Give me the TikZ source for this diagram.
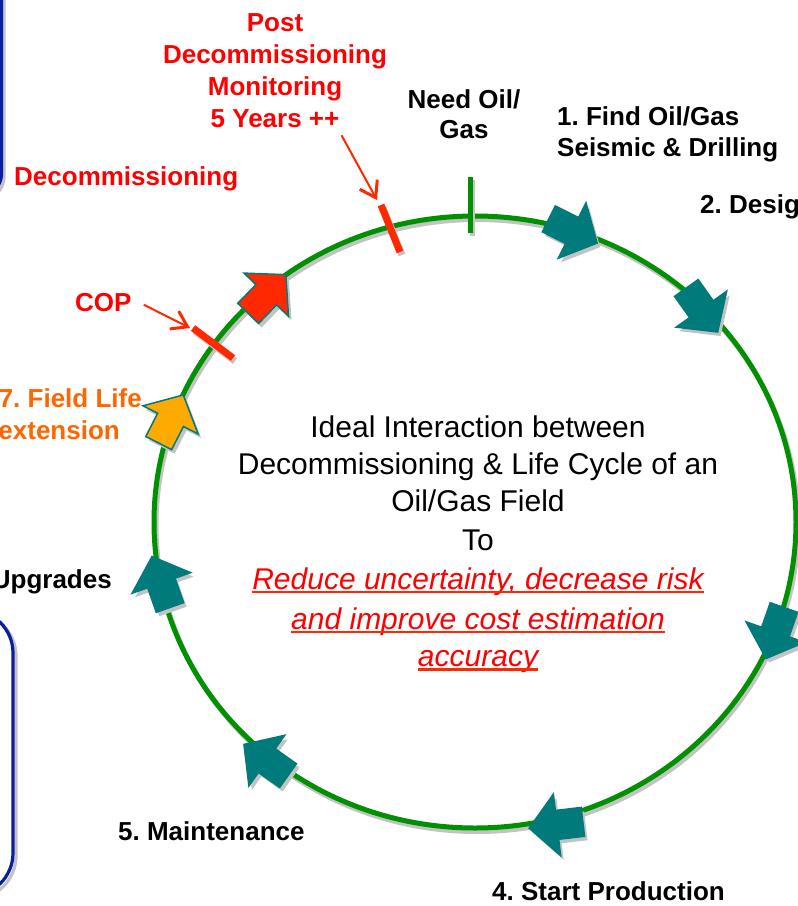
\documentclass[tikz,border=0pt]{standalone}
\usepackage{fontspec}
\setmainfont{Liberation Sans}
\usetikzlibrary{arrows.meta}
\frenchspacing
\definecolor{tealc}{RGB}{0,122,122}
\definecolor{cgreen}{RGB}{0,145,0}
\definecolor{tred}{RGB}{255,0,0}
\definecolor{mred}{RGB}{255,40,0}
\definecolor{forange}{RGB}{255,102,0}
\definecolor{aorange}{RGB}{255,170,0}
\definecolor{bblue}{RGB}{10,30,160}
\definecolor{shadec}{RGB}{195,195,195}
\newcommand\blkarrow[5]{%
  \fill[shadec,shift={(#1+3,#2+4)},rotate=#3]
    (-27,-14.5) -- (-1,-14.5) -- (-1,-31) -- (27,0) -- (-1,31) -- (-1,14.5) -- (-27,14.5) -- cycle;
  \filldraw[fill=#4,draw=#5,line width=1.5pt,line join=miter,shift={(#1,#2)},rotate=#3]
    (-27,-14.5) -- (-1,-14.5) -- (-1,-31) -- (27,0) -- (-1,31) -- (-1,14.5) -- (-27,14.5) -- cycle;
}
\begin{document}
\begin{tikzpicture}[x=1pt,y=-1pt,
  lbl/.style={font=\fontsize{26}{31}\selectfont\bfseries, inner sep=0pt, anchor=base},
  ctext/.style={font=\fontsize{30}{36}\selectfont, inner sep=0pt, anchor=base},
  rtext/.style={font=\fontsize{30}{36}\selectfont\itshape, text=tred, inner sep=0pt, anchor=base},
  uline/.style={mred, line width=2.5pt},
  ptr/.style={mred, line width=2pt, -{Straight Barb[length=15pt,width=20pt,line width=3pt]}},
  tickmark/.style={line width=7pt},
  bbox/.style={bblue, line width=3.2pt},
]
\useasboundingbox (0,0) rectangle (798,906);
\fill[white] (0,0) rectangle (798,906);
\clip (0,0) rectangle (798,906);

% blue boxes at the left edge
\draw[shadec, line width=3.2pt, rounded corners=22pt] (-60,-30) rectangle (4,199);
\draw[bbox, rounded corners=22pt] (-60,-30) rectangle (1.5,196);
\draw[shadec, line width=3.2pt, rounded corners=43pt] (-100,613) rectangle (16,899);
\draw[bbox, rounded corners=43pt] (-100,610) rectangle (13,896);

% cycle
\draw[shadec, line width=5pt] (477,525.5) ellipse [x radius=321, y radius=306];
\draw[cgreen, line width=5pt] (475,522) ellipse [x radius=321, y radius=306];

% tick marks
\draw[shadec, line width=5pt] (472,180) -- (472,236);
\draw[cgreen, line width=5pt] (470,177) -- (470,233);
\draw[shadec, tickmark] (383,208) -- (402,255);
\draw[mred, tickmark] (381,205) -- (400,252);
\draw[shadec, tickmark] (195,331) -- (235,361);
\draw[mred, tickmark] (193,328) -- (233,358);
\coordinate (pA) at (377,200);
\coordinate (pB) at (190,328);

% block arrows on the cycle
\blkarrow{573}{231}{-26.6}{tealc}{tealc}
\blkarrow{702}{310}{-54.6}{tealc}{tealc}
\blkarrow{775}{633}{-109.3}{tealc}{tealc}
\blkarrow{556}{825}{186.7}{tealc}{tealc}
\blkarrow{266}{760}{144.7}{tealc}{tealc}
\blkarrow{161}{582}{109.4}{tealc}{tealc}
\blkarrow{171}{419}{62.9}{aorange}{tealc}
\blkarrow{267}{294}{45.8}{mred}{tealc}

% labels
\node[lbl, text=tred] (postA) at (275,31.7) {Post};
\node[lbl, text=tred] (postB) at (275,63.3) {Decommissioning};
\node[lbl, text=tred] (postC) at (275,95.7) {Monitoring};
\node[lbl, text=tred] (postD) at (275,127.3) {5 Years ++};
\node[lbl, text=tred, anchor=base west] (decom) at (14,185) {Decommissioning};
\node[lbl] (need1) at (464,108.3) {Need Oil/};
\node[lbl] (need2) at (464,138.3) {Gas};
\node[lbl, anchor=base west] (find1) at (557,125) {1. Find Oil/Gas};
\node[lbl, anchor=base west] (find2) at (557,156.7) {Seismic \& Drilling};
\node[lbl, anchor=base west] (design) at (700,213.3) {2. Design};
\node[lbl, text=tred, anchor=base west] (cop) at (75,311.7) {COP};
\node[lbl, text=forange, anchor=base east] (fle1) at (142,407.7) {7. Field Life};
\node[lbl, text=forange, anchor=base east] (fle2) at (120,439.3) {extension};
\node[lbl, anchor=base east] (upg) at (112,588.3) {Upgrades};
\node[lbl, anchor=base west] (maint) at (118,840.7) {5. Maintenance};
\node[lbl, anchor=base west] (startp) at (492,900) {4. Start Production};

% pointers
\draw[ptr] ([xshift=2pt,yshift=-8pt]postD.base east) -- (pA);
\draw[ptr] ([xshift=12pt,yshift=7pt]cop.base east) -- (pB);

% centre text
\node[ctext] (c1) at (478,437) {Ideal Interaction between};
\node[ctext] (c2) at (478,474) {Decommissioning \& Life Cycle of an};
\node[ctext] (c3) at (478,511.7) {Oil/Gas Field};
\node[ctext] (c4) at (478,550.7) {To};
\node[rtext] (r1) at (478,589) {Reduce uncertainty, decrease risk};
\node[rtext] (r2) at (478,629) {and improve cost estimation};
\node[rtext] (r3) at (478,666.7) {accuracy};
\draw[uline] ([yshift=-3pt]r1.base west) -- ([yshift=-3pt]r1.base east);
\draw[uline] ([yshift=-3pt]r2.base west) -- ([yshift=-3pt]r2.base east);
\draw[uline] ([yshift=-3pt]r3.base west) -- ([yshift=-3pt]r3.base east);
\end{tikzpicture}
\end{document}
